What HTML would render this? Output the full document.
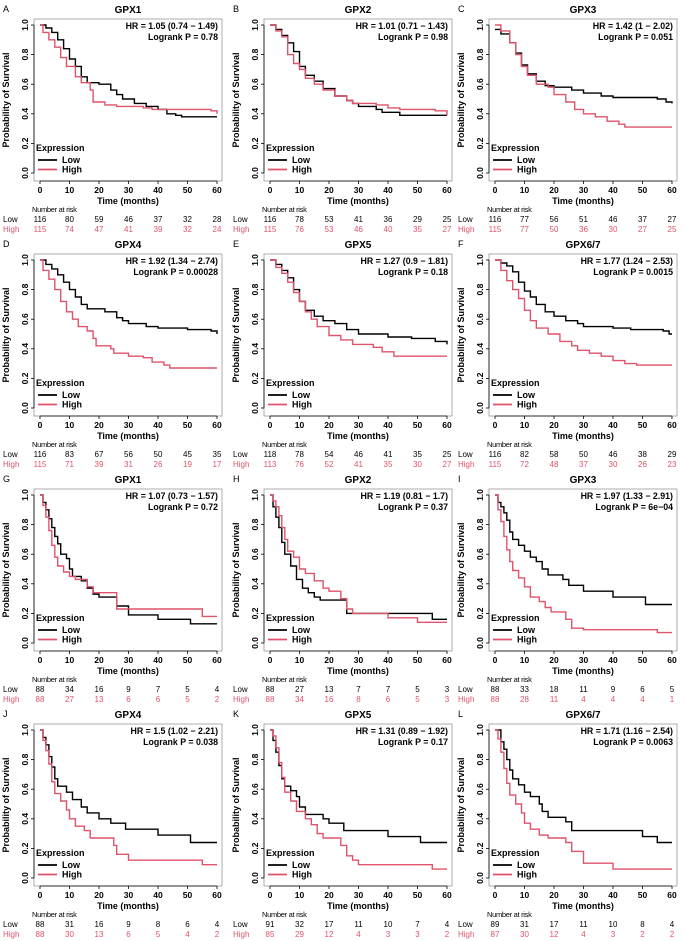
<!DOCTYPE html>
<html><head><meta charset="utf-8"><style>
html,body{margin:0;padding:0;background:#fff}
svg{display:block;font-family:"Liberation Sans",Arial,sans-serif}
</style></head><body>
<svg id="fig" width="685" height="941" viewBox="0 0 685 941" xmlns="http://www.w3.org/2000/svg"></svg>
<script>
const panelLetters=["A","B","C","D","E","F","G","H","I","J","K","L"];
const genes=["GPX1","GPX2","GPX3","GPX4","GPX5","GPX6/7","GPX1","GPX2","GPX3","GPX4","GPX5","GPX6/7"];
const hrText=["HR = 1.05 (0.74 − 1.49)","HR = 1.01 (0.71 − 1.43)","HR = 1.42 (1 − 2.02)","HR = 1.92 (1.34 − 2.74)","HR = 1.27 (0.9 − 1.81)","HR = 1.77 (1.24 − 2.53)","HR = 1.07 (0.73 − 1.57)","HR = 1.19 (0.81 − 1.7)","HR = 1.97 (1.33 − 2.91)","HR = 1.5 (1.02 − 2.21)","HR = 1.31 (0.89 − 1.92)","HR = 1.71 (1.16 − 2.54)"];
const pText=["Logrank P = 0.78","Logrank P = 0.98","Logrank P = 0.051","Logrank P = 0.00028","Logrank P = 0.18","Logrank P = 0.0015","Logrank P = 0.72","Logrank P = 0.37","Logrank P = 6e−04","Logrank P = 0.038","Logrank P = 0.17","Logrank P = 0.0063"];
const xTicks=[0,10,20,30,40,50,60];
const yTicks=[0,0.2,0.4,0.6,0.8,1.0];
const riskLow=[[116,80,59,46,37,32,28],[116,78,53,41,36,29,25],[116,77,56,51,46,37,27],[116,83,67,56,50,45,35],[118,78,54,46,41,35,25],[116,82,58,50,46,38,29],[88,34,16,9,7,5,4],[88,27,13,7,7,5,3],[88,33,18,11,9,6,5],[88,31,16,9,8,6,4],[91,32,17,11,10,7,4],[89,31,17,11,10,8,4]];
const riskHigh=[[115,74,47,41,39,32,24],[115,76,53,46,40,35,27],[115,77,50,36,30,27,25],[115,71,39,31,26,19,17],[113,76,52,41,35,30,27],[115,72,48,37,30,26,23],[88,27,13,6,6,5,2],[88,34,16,8,6,5,3],[88,28,11,4,4,4,1],[88,30,13,6,5,4,2],[85,29,12,4,3,3,2],[87,30,12,4,3,2,2]];
const lowT=[
[0,2,4,6,8,10,12,14,16,20,24,26,28,32,36,40,43,46,48,60],
[0,2,4,6,8,10,12,15,18,22,26,28,30,36,38,44,60],
[0,2,5,7,9,11,14,17,20,26,30,36,40,55,58,60],
[0,2,4,6,8,10,12,14,16,22,26,28,30,36,40,50,58,60],
[0,2,4,6,8,10,12,15,18,22,26,30,40,48,56,60],
[0,2,4,6,8,10,12,14,17,20,24,28,30,40,46,57,59,60],
[0,1,2,3,4,5,6,7,9,10,11,14,16,18,20,26,30,40,51,60],
[0,1,2,3,4,5,7,9,11,13,15,17,26,40,55,60],
[0,1,2,3,4,5,6,8,10,12,14,16,18,23,25,30,40,51,60],
[0,1,2,3,4,5,6,9,11,14,16,20,24,29,40,51,60],
[0,1,2,3,4,5,7,9,10,12,18,20,25,40,51,60],
[0,2,3,4,5,6,8,10,12,15,16,18,24,26,50,55,60]];
const lowS=[
[1,0.98,0.95,0.9,0.84,0.77,0.72,0.65,0.61,0.6,0.56,0.53,0.5,0.47,0.45,0.43,0.4,0.39,0.38,0.38],
[1,0.97,0.93,0.88,0.82,0.72,0.66,0.62,0.57,0.52,0.49,0.47,0.45,0.43,0.41,0.39,0.39],
[0.97,0.94,0.88,0.81,0.73,0.67,0.62,0.59,0.58,0.56,0.54,0.52,0.51,0.5,0.48,0.47],
[1,0.97,0.94,0.9,0.85,0.8,0.75,0.7,0.67,0.65,0.61,0.59,0.57,0.55,0.54,0.53,0.52,0.5],
[1,0.97,0.93,0.88,0.8,0.72,0.66,0.62,0.59,0.57,0.53,0.5,0.48,0.47,0.45,0.43],
[1,0.98,0.96,0.92,0.85,0.79,0.75,0.7,0.65,0.62,0.59,0.57,0.55,0.54,0.53,0.52,0.5,0.5],
[1,0.95,0.9,0.84,0.78,0.72,0.67,0.6,0.57,0.5,0.45,0.42,0.37,0.33,0.31,0.25,0.19,0.16,0.13,0.13],
[1,0.92,0.85,0.78,0.68,0.6,0.52,0.43,0.37,0.34,0.31,0.29,0.2,0.2,0.16,0.16],
[1,0.95,0.92,0.88,0.83,0.75,0.7,0.66,0.62,0.58,0.55,0.5,0.46,0.43,0.39,0.35,0.31,0.26,0.26],
[1,0.95,0.9,0.82,0.75,0.67,0.62,0.58,0.53,0.48,0.44,0.4,0.37,0.33,0.29,0.24,0.24],
[1,0.93,0.85,0.76,0.67,0.62,0.59,0.55,0.48,0.43,0.4,0.37,0.32,0.28,0.24,0.24],
[1,0.92,0.87,0.8,0.73,0.67,0.63,0.58,0.55,0.5,0.45,0.41,0.38,0.32,0.28,0.24,0.24]];
const highT=[
[0,1,3,5,7,9,12,14,17,18,22,26,35,38,58,60],
[0,2,4,6,8,10,12,15,18,22,26,28,36,40,44,56,60],
[0,2,5,7,9,11,14,18,20,24,27,30,34,38,42,44,60],
[0,1,3,5,7,9,11,13,16,18,19,24,25,30,35,38,42,44,60],
[0,2,4,6,8,10,12,14,16,20,24,28,35,38,42,60],
[0,2,4,6,8,10,12,14,18,22,26,28,32,36,40,44,48,60],
[0,1,2,3,4,5,6,8,10,12,16,18,26,55,60],
[0,1,2,3,4,5,6,8,10,12,15,18,20,24,26,28,40,50,60],
[0,1,2,3,4,5,6,8,10,12,15,17,19,24,26,30,55,60],
[0,1,2,3,4,5,7,9,10,12,15,17,25,26,30,55,60],
[0,1,2,3,4,5,7,9,12,14,16,18,24,26,28,30,55,60],
[0,1,2,3,4,5,7,9,10,12,15,18,24,26,30,40,60]];
const highS=[
[1,0.95,0.9,0.85,0.78,0.72,0.65,0.61,0.56,0.48,0.46,0.45,0.44,0.43,0.42,0.4],
[1,0.96,0.92,0.8,0.74,0.7,0.64,0.6,0.56,0.52,0.49,0.47,0.46,0.44,0.43,0.42,0.39],
[1,0.96,0.88,0.8,0.72,0.66,0.6,0.58,0.53,0.48,0.43,0.4,0.38,0.35,0.33,0.31,0.31],
[1,0.93,0.87,0.8,0.72,0.65,0.6,0.55,0.52,0.47,0.42,0.4,0.37,0.35,0.34,0.31,0.29,0.27,0.27],
[1,0.95,0.91,0.85,0.78,0.72,0.65,0.6,0.55,0.49,0.46,0.43,0.41,0.38,0.35,0.35],
[1,0.93,0.86,0.8,0.74,0.66,0.59,0.54,0.5,0.45,0.42,0.39,0.37,0.35,0.32,0.3,0.29,0.29],
[1,0.93,0.85,0.76,0.66,0.58,0.52,0.48,0.45,0.43,0.38,0.34,0.23,0.18,0.18],
[1,0.96,0.92,0.86,0.78,0.7,0.62,0.58,0.5,0.47,0.42,0.37,0.35,0.3,0.23,0.2,0.17,0.14,0.14],
[1,0.9,0.82,0.72,0.63,0.55,0.49,0.44,0.38,0.31,0.28,0.24,0.21,0.16,0.1,0.09,0.07,0.07],
[1,0.93,0.86,0.77,0.65,0.57,0.52,0.46,0.4,0.35,0.32,0.27,0.22,0.16,0.12,0.09,0.09],
[1,0.96,0.88,0.78,0.68,0.58,0.52,0.45,0.4,0.36,0.3,0.27,0.22,0.15,0.12,0.09,0.06,0.06],
[1,0.94,0.85,0.74,0.64,0.56,0.5,0.44,0.37,0.33,0.29,0.27,0.24,0.18,0.1,0.06,0.06]];

const RED="#DF536B";
const NS="http://www.w3.org/2000/svg";
const svg=document.getElementById("fig");
const colX=[0,230,455], rowY=[0,235,470,705];
function xs(t){return 40+t*(177/60);}
function ys(s){return 173-148*s;}
function mk(tag,attrs,parent){const e=document.createElementNS(NS,tag);for(const k in attrs)e.setAttribute(k,attrs[k]);parent.appendChild(e);return e;}
function txt(parent,x,y,s,opt){const e=mk("text",Object.assign({x:x,y:y},opt||{}),parent);e.textContent=s;return e;}
function stepPath(T,S){let d="M"+xs(T[0]).toFixed(1)+","+ys(S[0]).toFixed(1);for(let i=1;i<T.length;i++){d+=" H"+xs(T[i]).toFixed(1)+" V"+ys(S[i]).toFixed(1);}return d;}

for(let p=0;p<12;p++){
  const g=mk("g",{transform:"translate("+colX[p%3]+","+rowY[Math.floor(p/3)]+")"},svg);
  
  
  const lab=txt(g,3,12,panelLetters[p],{"font-size":"9","fill":"#000"});
  
  
  const ti=txt(g,128,13,genes[p],{"font-size":"10","font-weight":"bold","text-anchor":"middle"});
  
  
  const fr=mk("rect",{x:34,y:19,width:188,height:162,fill:"none",stroke:"#999","stroke-width":"0.8"},g);
  
  
  // x ticks
  xTicks.forEach(t=>{
    mk("line",{x1:xs(t),x2:xs(t),y1:181,y2:184,stroke:"#000","stroke-width":"0.8"},g);
    const l=txt(g,xs(t),193,String(t),{"font-size":"8.5","font-weight":"bold","text-anchor":"middle"});
    
    
  });
  mk("line",{x1:xs(0),x2:xs(60),y1:181,y2:181,stroke:"#000","stroke-width":"0.8"},g);
  yTicks.forEach(v=>{
    mk("line",{x1:31,x2:34,y1:ys(v),y2:ys(v),stroke:"#000","stroke-width":"0.8"},g);
    const l=txt(g,28,ys(v),v.toFixed(1),{"font-size":"8.5","font-weight":"bold","text-anchor":"middle",transform:"rotate(-90 28 "+ys(v)+")"});
    
    
  });
  mk("line",{x1:34,x2:34,y1:ys(0),y2:ys(1),stroke:"#000","stroke-width":"0.8"},g);
  const yl=txt(g,9,100,"Probability of Survival",{"font-size":"9","font-weight":"bold","text-anchor":"middle",transform:"rotate(-90 9 100)"});
  
  
  const xl=txt(g,128,204,"Time (months)",{"font-size":"9","font-weight":"bold","text-anchor":"middle"});
  
  
  const h1=txt(g,218,29,hrText[p],{"font-size":"8.8","font-weight":"bold","text-anchor":"end"});
  
  
  const h2=txt(g,218,40,pText[p],{"font-size":"8.8","font-weight":"bold","text-anchor":"end"});
  
  
  // curves
  const cl=mk("path",{d:stepPath(lowT[p],lowS[p]),fill:"none",stroke:"#000","stroke-width":"1.4"},g);
  
  
  const ch=mk("path",{d:stepPath(highT[p],highS[p]),fill:"none",stroke:RED,"stroke-width":"1.4"},g);
  
  
  // legend
  const lg=mk("g",{},g);
  
  
  txt(lg,36,151,"Expression",{"font-size":"9","font-weight":"bold"});
  mk("line",{x1:38,x2:57,y1:160,y2:160,stroke:"#000","stroke-width":"1.8"},lg);
  txt(lg,62,163,"Low",{"font-size":"9","font-weight":"bold"});
  mk("line",{x1:38,x2:57,y1:169.5,y2:169.5,stroke:RED,"stroke-width":"1.8"},lg);
  txt(lg,62,172.5,"High",{"font-size":"9","font-weight":"bold"});
  // risk table
  const rt=mk("g",{},g);
  
  
  txt(rt,32,212,"Number at risk",{"font-size":"7.5","letter-spacing":"-0.3"});
  txt(rt,3,222,"Low",{"font-size":"8"});
  txt(rt,3,232,"High",{"font-size":"8",fill:RED});
  xTicks.forEach((t,i)=>{
    txt(rt,xs(t),222,String(riskLow[p][i]),{"font-size":"8","text-anchor":"middle"});
    txt(rt,xs(t),232,String(riskHigh[p][i]),{"font-size":"8","text-anchor":"middle",fill:RED});
  });
}
</script>
</body></html>
